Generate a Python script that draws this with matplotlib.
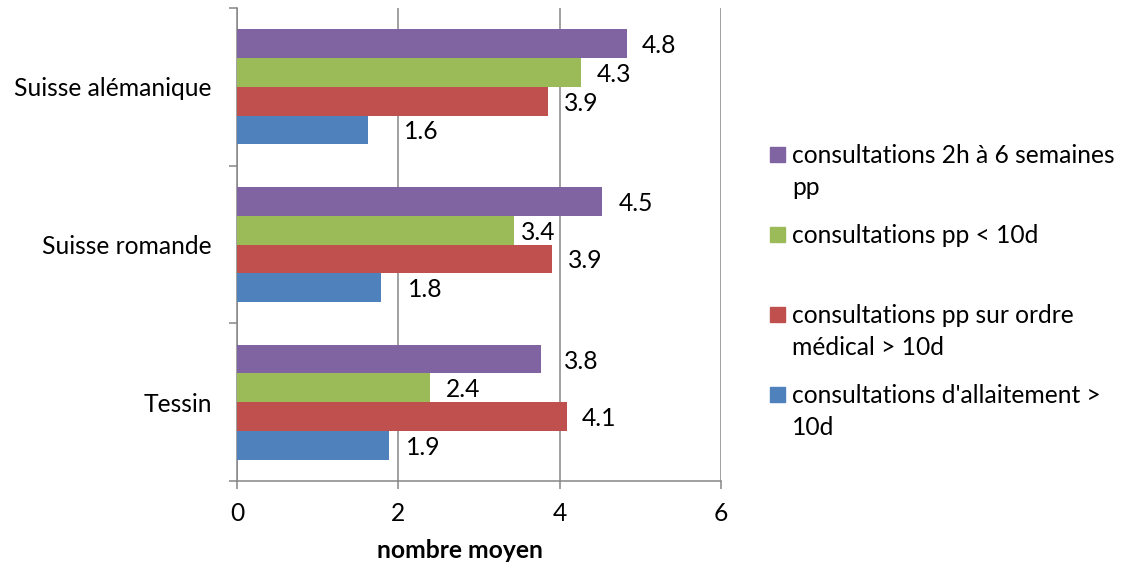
import matplotlib
matplotlib.use("Agg")
import matplotlib.pyplot as plt
import numpy as np
from matplotlib.patches import Rectangle

# Data
regions = ["Tessin", "Suisse romande", "Suisse alémanique"]
series_names = [
    "consultations d'allaitement >\n10d",
    "consultations pp sur ordre\nmédical > 10d",
    "consultations pp < 10d",
    "consultations 2h à 6 semaines\npp",
]
allaitement = [1.88, 1.78, 1.62]
ordre_medical = [4.09, 3.90, 3.86]
pp_10d = [2.39, 3.44, 4.26]
deux_h_6_sem = [3.77, 4.53, 4.83]
xticks = [0, 2, 4, 6]
xlabel = "nombre moyen"

series = [allaitement, ordre_medical, pp_10d, deux_h_6_sem]
colors = ["#4F81BD", "#C0504D", "#9BBB59", "#8064A2"]

# label offsets (pixels from bar end), per series then per region
label_dx = [
    [17, 27, 36],
    [15, 16, 16],
    [16, 6, 16],
    [23, 16, 15],
]

plt.rcParams["font.family"] = ["Lato", "DejaVu Sans"]
FS = 17.7
GRAY = "#868686"

fig = plt.figure(figsize=(11.23, 5.69), dpi=100)
W, H = 1123, 569
ax = fig.add_axes([237 / W, (H - 481) / H, (721 - 237) / W, (481 - 8) / H])

h = 0.1824
y = np.arange(len(regions))
for i, vals in enumerate(series):
    pos = y + (i - 1.5) * h
    ax.barh(pos, vals, height=h, color=colors[i], zorder=3)
    for j, (p, v) in enumerate(zip(pos, vals)):
        ax.annotate(f"{v:.1f}", xy=(v, p), xytext=(label_dx[i][j], -2),
                    textcoords="offset pixels", ha="left", va="center",
                    fontsize=FS, color="#000000")

ax.set_xlim(0, 6)
ax.set_ylim(-0.5, len(regions) - 0.5)
ax.set_xticks(xticks)
ax.set_xticklabels([str(t) for t in xticks])
ax.set_yticks(y)
ax.set_yticklabels(regions)
ax.set_yticks(np.arange(-0.5, len(regions)), minor=True)

ax.tick_params(axis="y", which="major", length=0, pad=18, labelsize=FS)
ax.tick_params(axis="y", which="minor", length=6, width=1.1, color=GRAY, direction="out")
ax.tick_params(axis="x", length=6, width=1.1, color=GRAY, direction="out", pad=9, labelsize=FS)

for s in ["top", "right"]:
    ax.spines[s].set_visible(False)
for s in ["left", "bottom"]:
    ax.spines[s].set_color(GRAY)
    ax.spines[s].set_linewidth(1.1)

ax.xaxis.grid(True, color=GRAY, linewidth=1.1, zorder=0)
ax.set_axisbelow(True)

fig.text(460 / W, 1 - 551 / H, xlabel, ha="center", va="center",
         fontsize=FS, fontweight="bold")

# Legend, top to bottom
first_baselines = [163, 243, 323, 403]
line_gap = 32
for k, idx in enumerate([3, 2, 1, 0]):
    b = first_baselines[k]
    fig.patches.append(Rectangle((770 / W, 1 - (b - 1) / H), 15 / W, 15 / H,
                                 transform=fig.transFigure, color=colors[idx]))
    for n, line in enumerate(series_names[idx].split("\n")):
        fig.text(792 / W, 1 - (b + n * line_gap) / H, line, ha="left",
                 va="baseline", fontsize=FS)

fig.savefig("out.png", dpi=100)
